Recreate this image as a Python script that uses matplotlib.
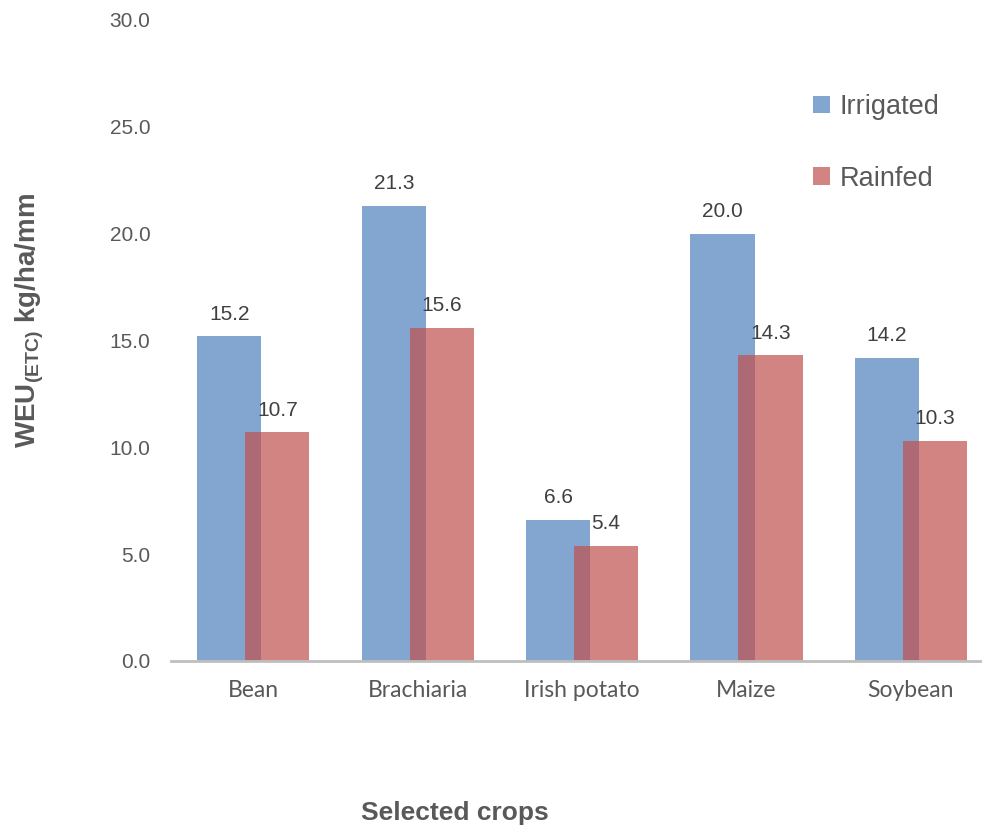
import matplotlib.pyplot as plt
import numpy as np

crops = ['Bean', 'Brachiaria', 'Irish potato', 'Maize', 'Soybean']
irrigated = [15.2, 21.3, 6.6, 20.0, 14.2]
rainfed = [10.7, 15.6, 5.4, 14.3, 10.3]
yticks = [0, 5, 10, 15, 20, 25, 30]

sans = ['Liberation Sans', 'DejaVu Sans']
plt.rcParams['mathtext.fontset'] = 'custom'
plt.rcParams['mathtext.rm'] = 'Liberation Sans:bold'

fig = plt.figure(figsize=(9.82, 8.31), dpi=100)
ax = fig.add_axes([0.1744, 0.2046, 0.8256, 0.7714])

x = np.arange(len(crops))
w = 0.39
off = 0.146

b1 = ax.bar(x - off, irrigated, width=w, color='#4F81BD', alpha=0.7, label='Irrigated', zorder=2)
b2 = ax.bar(x + off, rainfed, width=w, color='#C0504D', alpha=0.7, label='Rainfed', zorder=3)

# value labels above each bar
for bars, vals in [(b1, irrigated), (b2, rainfed)]:
    for bar, v in zip(bars, vals):
        ax.annotate(f'{v:.1f}', (bar.get_x() + bar.get_width() / 2, v),
                    xytext=(0, 9), textcoords='offset points',
                    ha='center', va='bottom', fontsize=15, color='#404040',
                    family=sans, zorder=4)

ax.set_xlim(-0.5, -0.5 + 811 / 164.4)
ax.set_ylim(0, 30)
ax.set_yticks(yticks)
ax.set_yticklabels([f'{t:.1f}' for t in yticks], fontsize=15, color='#595959', family=sans)
ax.set_xticks(x)
ax.set_xticklabels(crops, fontsize=16.5, color='#595959', family=['Lato', 'DejaVu Sans'])
ax.tick_params(axis='y', length=0, pad=15)
ax.tick_params(axis='x', length=0, pad=14)

for s in ['top', 'right', 'left']:
    ax.spines[s].set_visible(False)
ax.spines['bottom'].set_color('#BFBFBF')
ax.spines['bottom'].set_linewidth(2)
ax.spines['bottom'].set_zorder(5)

leg = ax.legend(loc='upper left', bbox_to_anchor=(813 / 982, 1 - 94 / 831),
                bbox_transform=fig.transFigure, frameon=False,
                prop={'family': sans, 'size': 19.5},
                borderaxespad=0, borderpad=0,
                handlelength=0.63, handleheight=0.63, handletextpad=0.35,
                labelspacing=1.68)
for t in leg.get_texts():
    t.set_color('#595959')

fig.text(30 / 982, 1 - 320 / 831, r'$\mathrm{WEU}_{\mathrm{(ETC)}}$ kg/ha/mm',
         rotation=90, ha='center', va='center', fontsize=20, fontweight='bold',
         color='#595959', family=sans)
fig.text(455 / 982, 1 - 813 / 831, 'Selected crops', ha='center', va='center',
         fontsize=19, fontweight='bold', color='#595959', family=sans)

fig.savefig('out.png', dpi=100)
